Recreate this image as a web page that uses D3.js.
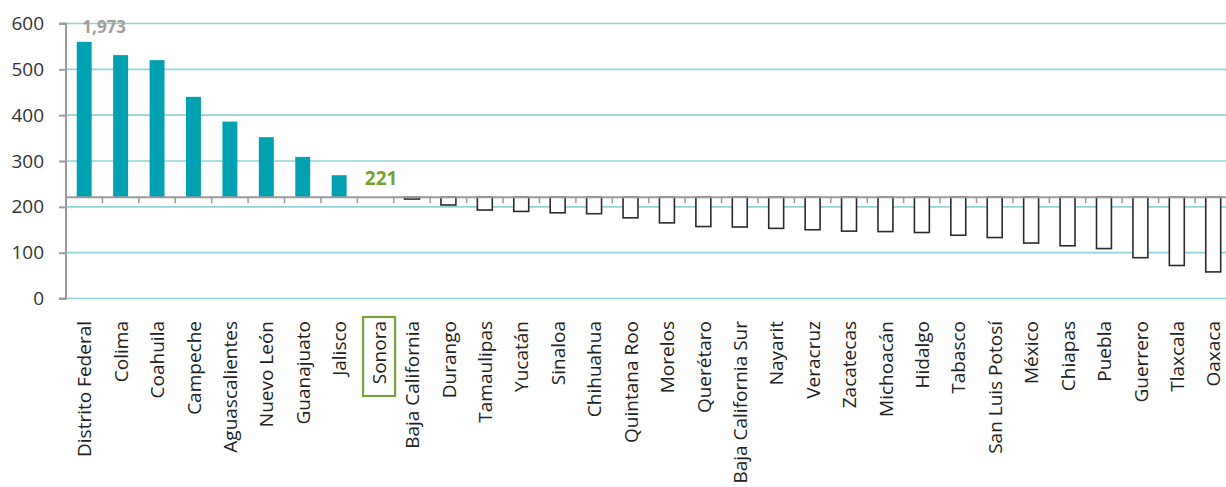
<!DOCTYPE html>
<html>
<head>
<meta charset="utf-8">
<script src="https://cdn.jsdelivr.net/npm/d3@7"></script>
<style>
  html, body { margin: 0; padding: 0; background: #fff; }
  svg { display: block; font-family: "Open Sans", sans-serif; }
</style>
</head>
<body>
<svg id="chart" width="1226" height="487"></svg>
<script>
const categories = ["Distrito Federal","Colima","Coahuila","Campeche","Aguascalientes","Nuevo León","Guanajuato","Jalisco","Sonora","Baja California","Durango","Tamaulipas","Yucatán","Sinaloa","Chihuahua","Quintana Roo","Morelos","Querétaro","Baja California Sur","Nayarit","Veracruz","Zacatecas","Michoacán","Hidalgo","Tabasco","San Luis Potosí","México","Chiapas","Puebla","Guerrero","Tlaxcala","Oaxaca"];
const values = [560,531,520,440,386,352,309,269,221,217,204,193,190,187,185,176,165,157,156,153,150,147,146,144,138,133,121,115,109,89,72,58];
const baselineValue = 221;
const highlight = "Sonora";
const highlightLabel = "221";
const truncatedLabel = "1,973";
const yTicks = [0,100,200,300,400,500,600];

(function () {
const svg = d3.select("#chart");
const mLeft = 66, mTop = 23.5, mBottom = 298.5, step = 36.42;
const x = d3.scaleBand().domain(categories).range([mLeft, mLeft + step * categories.length]).paddingInner(0.59).paddingOuter(0.295);
const y = d3.scaleLinear().domain([0, 600]).range([mBottom, mTop]);
const yb = y(baselineValue);

// gridlines
svg.append("g").selectAll("line").data(yTicks).join("line")
  .attr("x1", mLeft).attr("x2", 1226)
  .attr("y1", d => y(d)).attr("y2", d => y(d))
  .attr("stroke", "#8fd4db").attr("stroke-width", 1.6);

// y axis
const yAxis = d3.axisLeft(y).tickValues(yTicks).tickSize(7).tickPadding(15).tickFormat(d3.format("d"));
const yg = svg.append("g").attr("transform", `translate(${mLeft},0)`).call(yAxis);
yg.select(".domain").attr("stroke", "#9a9a9a").attr("stroke-width", 2).attr("d", `M-7,${mTop}H0V${mBottom}H-7`);
yg.selectAll(".tick line").attr("stroke", "#9a9a9a").attr("stroke-width", 2);
yg.selectAll(".tick text").attr("fill", "#333").style("font-size", "19px").style("font-family", "Open Sans");

// bars
const bars = svg.append("g");
categories.forEach((c, i) => {
  const v = values[i];
  if (v === baselineValue) return;
  const above = v > baselineValue;
  bars.append("rect")
    .attr("x", x(c))
    .attr("y", above ? y(v) : yb)
    .attr("width", x.bandwidth())
    .attr("height", Math.abs(y(v) - yb))
    .attr("fill", above ? "#00a1b1" : "#fff")
    .attr("stroke", above ? "none" : "#2b2b2b")
    .attr("stroke-width", 1.6);
});

// baseline axis at 221
const boundaries = d3.range(1, categories.length + 1).map(i => mLeft + step * i);
svg.append("line").attr("x1", mLeft).attr("x2", 1226).attr("y1", yb).attr("y2", yb)
  .attr("stroke", "#9a9a9a").attr("stroke-width", 2);
svg.append("g").selectAll("line").data(boundaries).join("line")
  .attr("x1", d => d).attr("x2", d => d).attr("y1", yb).attr("y2", yb + 6)
  .attr("stroke", "#9a9a9a").attr("stroke-width", 1.5);

// category labels
const labelTop = 321;
svg.append("g").selectAll("text").data(categories).join("text")
  .attr("transform", d => `translate(${x(d) + x.bandwidth() / 2 + (d === highlight ? 4 : 0.5)},${labelTop}) rotate(-90)`)
  .attr("text-anchor", "end").attr("dy", "0.35em")
  .attr("fill", "#222").style("font-size", "19px")
  .text(d => d);

// highlight box
const hx = x(highlight) + x.bandwidth() / 2;
svg.append("rect").attr("x", hx - 12.5).attr("y", 317).attr("width", 32).attr("height", 79)
  .attr("fill", "none").attr("stroke", "#77a33a").attr("stroke-width", 2.2);

// value labels
svg.append("text").attr("x", hx + 5.5).attr("y", yb - 12).attr("text-anchor", "middle")
  .attr("fill", "#77a22f").style("font-size", "19px").style("font-weight", "bold").text(highlightLabel);
const first = categories[0];
svg.append("text").attr("x", x(first) + x.bandwidth() / 2 + 20).attr("y", 33).attr("text-anchor", "middle")
  .attr("fill", "#a0a0a0").style("font-size", "17px").style("font-weight", "bold").text(truncatedLabel);
})();
</script>
</body>
</html>
